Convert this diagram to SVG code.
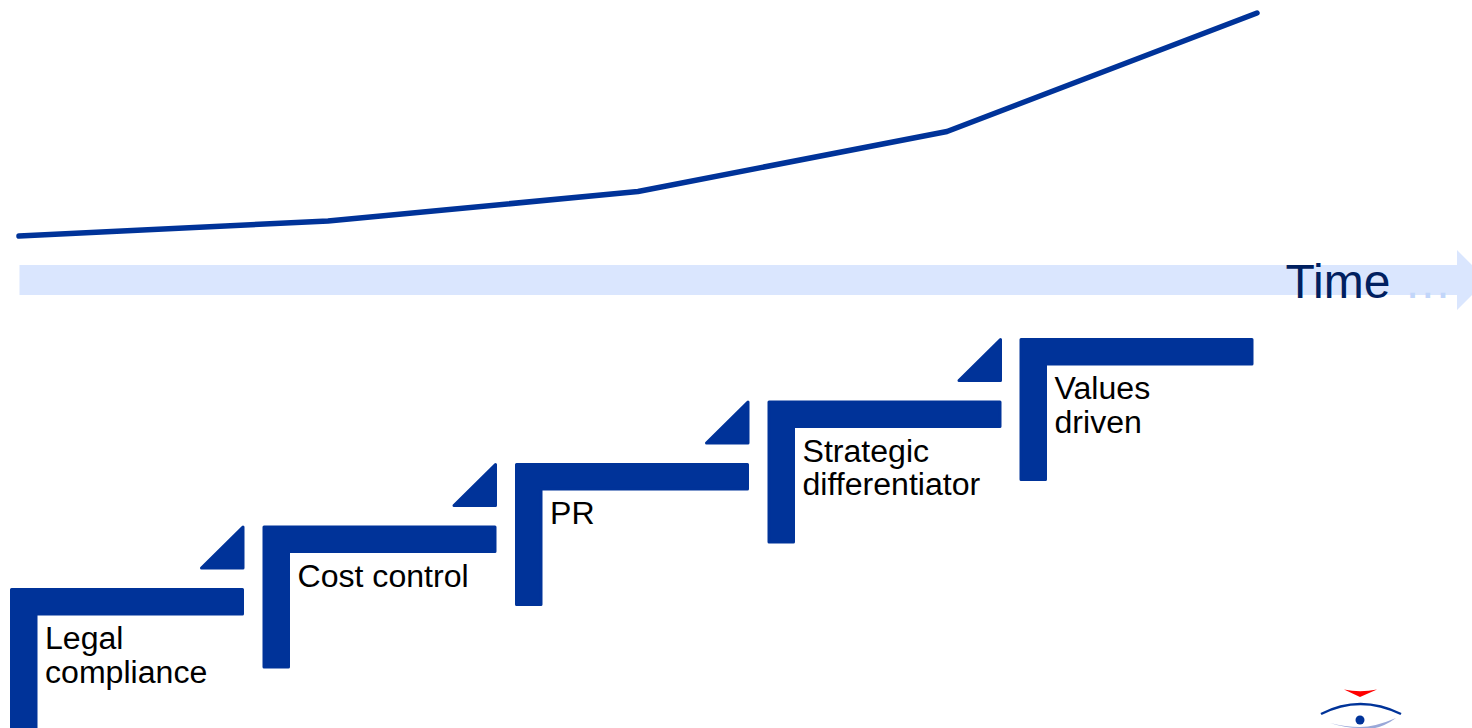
<svg xmlns="http://www.w3.org/2000/svg" width="1472" height="728" viewBox="0 0 1472 728">
<style>
.s{fill:#003399;stroke:#003399;stroke-width:3;stroke-linejoin:round}
.t{font-family:"Liberation Sans",Arial,sans-serif;font-size:32.100px;fill:#000}
.l{fill:none;stroke:#003399;stroke-width:5.500;stroke-linecap:round;stroke-linejoin:round}
</style>
<defs>
<path id="stair" d="M1.500 1.500H232.500V26H26V141.500H1.500Z"/>
<path id="tri" d="M233 -61V-20H191.500Z"/>
</defs>
<rect width="1472" height="728" fill="#fff"/>
<g id="time-arrow">
<path d="M19.500 265H1457V250L1487 280L1457 310V295H19.500Z" fill="#dae6fe"/>
<text x="1285.500" y="298" font-family="'Liberation Sans',Arial,sans-serif" font-size="48" fill="#002060">Time <tspan fill="#c2d6fa">…</tspan></text>
</g>
<g id="connectors">
<polyline class="l" points="19,236 328,221 638,191.500 947,131.500 1257,13"/>
</g>
<g id="step-1" transform="translate(10 588)"><use href="#stair" class="s"/><use href="#tri" class="s"/><text class="t" x="35" y="61">Legal</text><text class="t" x="35" y="95">compliance</text></g>
<g id="step-2" transform="translate(262.500 525.500)"><use href="#stair" class="s"/><use href="#tri" class="s"/><text class="t" x="35" y="61">Cost control</text></g>
<g id="step-3" transform="translate(515 463)"><use href="#stair" class="s"/><use href="#tri" class="s"/><text class="t" x="35" y="61">PR</text></g>
<g id="step-4" transform="translate(767.500 400.500)"><use href="#stair" class="s"/><use href="#tri" class="s"/><text class="t" x="35" y="61">Strategic</text><text class="t" x="35" y="94">differentiator</text></g>
<g id="step-5" transform="translate(1019.500 338)"><use href="#stair" class="s"/><text class="t" x="35" y="61">Values</text><text class="t" x="35" y="95">driven</text></g>
<g id="logo">
<path d="M1344 689.500Q1360 693 1377 689.500L1360 697Z" fill="#ff0000"/>
<path d="M1321 714Q1360 694 1401 714" fill="none" stroke="#003399" stroke-width="2.500"/>
<circle cx="1360" cy="720" r="4.500" fill="#003399"/>
<path d="M1330 723Q1345 728 1360 728H1375Q1385 726 1396 718Q1375 727 1360 727Q1345 727 1330 723Z" fill="#9aa8d8"/>
</g>
</svg>
